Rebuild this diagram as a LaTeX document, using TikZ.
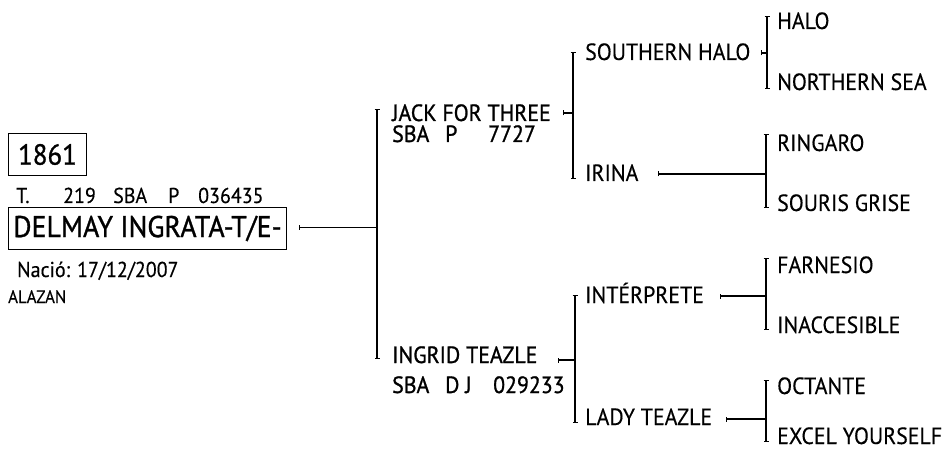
\documentclass[tikz,border=0pt]{standalone}
\usepackage{fontspec}
\setmainfont{PT Sans}[FakeStretch=0.93, FakeBold=0.3]
\newfontfamily\medfont{PT Sans}[FakeStretch=0.93, FakeBold=1]
\usetikzlibrary{arrows.meta,calc}

\begin{document}
\begin{tikzpicture}[x=1pt, y=-1pt,
    lbl/.style={anchor=base west, inner sep=0pt, font=\fontsize{23.5}{28}\selectfont},
    par/.style={lbl, font=\medfont\fontsize{23.5}{28}\selectfont},
    framed/.style={draw, line width=1pt, anchor=north west, inner sep=0pt, minimum height=42, font=\medfont\fontsize{29}{34}\selectfont},
    brk/.style={line width=1.1pt, arrows={Bar[width=5pt]-Bar[width=5pt]}},
    link/.style={line width=1.1pt, arrows={Bar[width=5pt]-}},
]
    \useasboundingbox (0,0) rectangle (948,457);

    % the horse
    \node[framed, minimum width=78] (num) at (8,133) {1861};
    \node[lbl, font=\fontsize{21.5}{26}\selectfont] (reg) at (16,203) {\makebox[47pt][l]{T.}\makebox[50pt][l]{219}\makebox[55pt][l]{SBA}\makebox[30pt][l]{P}036435};
    \node[framed, minimum width=278, font=\medfont\fontsize{30}{34}\selectfont] (delmay) at (8,207) {DELMAY INGRATA-T/E-};
    \node[lbl, font=\fontsize{21.5}{26}\selectfont] (birth) at (17,277) {Nació: 17/12/2007};
    \node[lbl, font=\fontsize{18}{22}\selectfont] (coat) at (8,303) {ALAZAN};

    % parents
    \node[par, text depth=0pt] (jack) at (392,121) {JACK FOR THREE};
    \node[par, text height=15pt] (jackreg) at (392,142) {\makebox[53pt][l]{SBA}\makebox[43pt][l]{P}7727};
    \node[par] (ingrid) at (392,363) {INGRID TEAZLE};
    \node[par] (ingridreg) at (392,393) {\makebox[53pt][l]{SBA}\makebox[48pt][l]{D J}029233};

    % grandparents
    \node[lbl] (southern) at (585,60) {SOUTHERN HALO};
    \node[lbl] (irina) at (585,181) {IRINA};
    \node[lbl] (interprete) at (585,303) {INTÉRPRETE};
    \node[lbl] (lady) at (585,425) {LADY TEAZLE};

    % great-grandparents
    \node[lbl] (halo) at (777,29) {HALO};
    \node[lbl] (northern) at (777,90) {NORTHERN SEA};
    \node[lbl] (ringaro) at (777,151) {RINGARO};
    \node[lbl] (souris) at (777,211) {SOURIS GRISE};
    \node[lbl] (farnesio) at (777,273) {FARNESIO};
    \node[lbl] (inaccesible) at (777,333) {INACCESIBLE};
    \node[lbl] (octante) at (777,394) {OCTANTE};
    \node[lbl] (excel) at (777,444) {EXCEL YOURSELF};

    % delmay -> parents
    \coordinate (delT) at ($(jack.base west)+(-15,-12)$);
    \coordinate (delB) at ($(delT |- ingrid.base west)+(0,-4)$);
    \draw[brk] (delT) -- (delB);
    \coordinate (delC) at ($(delmay.base east)+(12,-10)$);
    \draw[link] (delC) -- (delC -| delT);

    % jack -> grandparents
    \coordinate (jackT) at ($(southern.base west)+(-12,-8)$);
    \coordinate (jackB) at ($(jackT |- irina.base west)+(0,-2)$);
    \draw[brk] (jackT) -- (jackB);
    \coordinate (jackC) at ($(jack.base east)+(12,-8)$);
    \draw[link] (jackC) -- (jackC -| jackT);

    % ingrid -> grandparents
    \coordinate (ingridT) at ($(interprete.base west)+(-10,-8)$);
    \coordinate (ingridB) at ($(ingridT |- lady.base west)+(0,-2)$);
    \draw[brk] (ingridT) -- (ingridB);
    \coordinate (ingridC) at ($(ingrid.base east)+(20,-3)$);
    \draw[link] (ingridC) -- (ingridC -| ingridT);

    % southern halo
    \coordinate (southernT) at ($(halo.base west)+(-10,-13)$);
    \coordinate (southernB) at ($(southernT |- northern.base west)+(0,-1)$);
    \draw[brk] (southernT) -- (southernB);
    \coordinate (southernC) at ($(southern.base east)+(10,-7)$);
    \draw[link] (southernC) -- (southernC -| southernT);

    % irina
    \coordinate (irinaT) at ($(ringaro.base west)+(-11,-17)$);
    \coordinate (irinaB) at ($(irinaT |- souris.base west)+(0,-3)$);
    \draw[brk] (irinaT) -- (irinaB);
    \coordinate (irinaC) at ($(irina.base east)+(19,-7)$);
    \draw[link] (irinaC) -- (irinaC -| irinaT);

    % interprete
    \coordinate (interpreteT) at ($(farnesio.base west)+(-11,-15)$);
    \coordinate (interpreteB) at ($(interpreteT |- inaccesible.base west)+(0,-3)$);
    \draw[brk] (interpreteT) -- (interpreteB);
    \coordinate (interpreteC) at ($(interprete.base east)+(16,-7)$);
    \draw[link] (interpreteC) -- (interpreteC -| interpreteT);

    % lady teazle
    \coordinate (ladyT) at ($(octante.base west)+(-11,-14)$);
    \coordinate (ladyB) at ($(ladyT |- excel.base west)+(0,-2)$);
    \draw[brk] (ladyT) -- (ladyB);
    \coordinate (ladyC) at ($(lady.base east)+(14,-6)$);
    \draw[link] (ladyC) -- (ladyC -| ladyT);
\end{tikzpicture}
\end{document}
